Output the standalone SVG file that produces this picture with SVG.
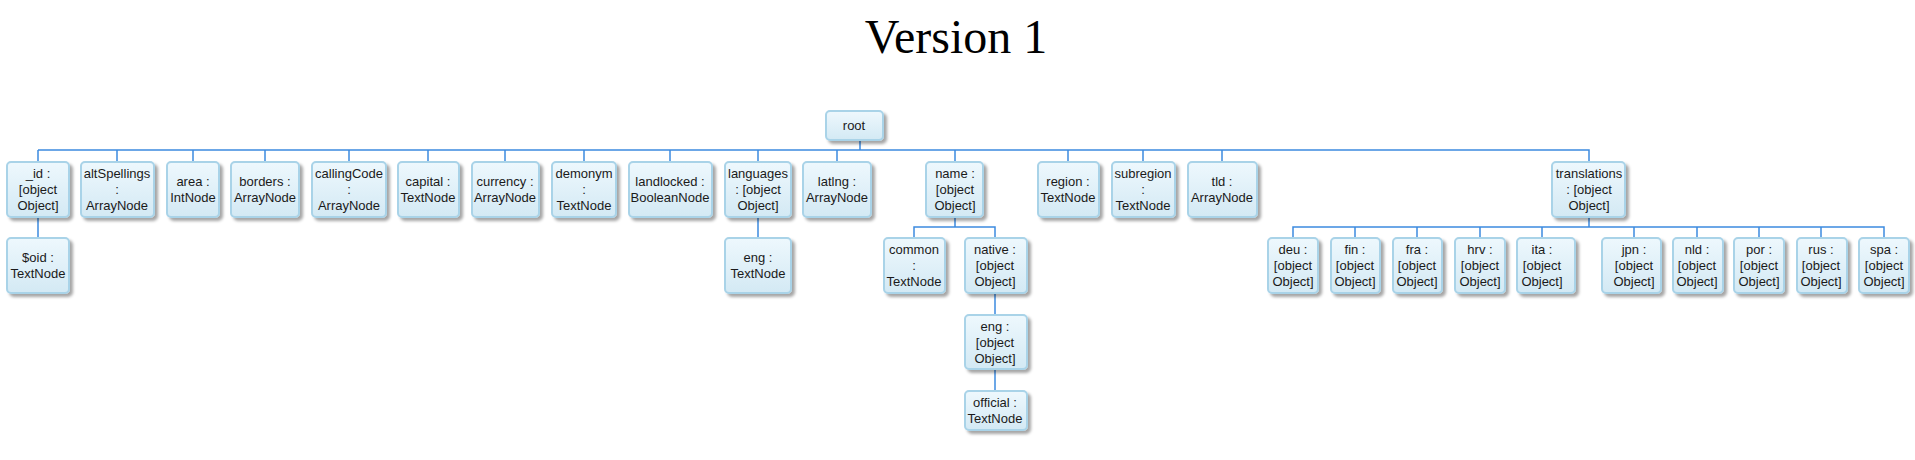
<svg xmlns="http://www.w3.org/2000/svg" width="1915" height="460" viewBox="0 0 1915 460">
<defs>
<linearGradient id="g" x1="0" y1="0" x2="0" y2="1">
<stop offset="0" stop-color="#eef8fd"/>
<stop offset="1" stop-color="#d3e9f4"/>
</linearGradient>
<filter id="sh" x="-20%" y="-20%" width="150%" height="150%">
<feDropShadow dx="3" dy="3" stdDeviation="1.5" flood-color="#000" flood-opacity="0.35"/>
</filter>
</defs>
<style>
.box{fill:url(#g);stroke:#a9d3e8;stroke-width:2;filter:url(#sh)}
.t{font-family:"Liberation Sans",Arial,sans-serif;font-size:13px;fill:#1a1a1a;text-anchor:middle}
.c{fill:none;stroke:#3c8be0;stroke-width:1.5}
.title{font-family:"Liberation Serif","Times New Roman",serif;font-size:48px;fill:#000;text-anchor:middle}
</style>
<rect width="1915" height="460" fill="#fff"/>
<text class="title" x="956" y="53">Version 1</text>
<g id="connectors">
<path class="c" d="M860,140V150M38,150H1589V162M38,150V162M117,150V162M193,150V162M265,150V162M349,150V162M428,150V162M505,150V162M584,150V162M670,150V162M758,150V162M837,150V162M955,150V162M1068,150V162M1143,150V162M1222,150V162"/>
<path class="c" d="M38,217V238M758,217V238"/>
<path class="c" d="M955,217V227M914,238V227H995V238M995,293V315M995,369V391"/>
<path class="c" d="M1589,217V227M1293,238V227H1884V238M1355,227V238M1417,227V238M1480,227V238M1542,227V238M1634,227V238M1697,227V238M1759,227V238M1821,227V238"/>
</g>
<g id="root"><rect class="box" x="826" y="111" width="57" height="29" rx="4"/><text class="t" x="854" y="130">root</text></g>
<g id="n_id"><rect class="box" x="7" y="162" width="62" height="55" rx="4"/><text class="t"><tspan x="38" y="178">_id :</tspan><tspan x="38" y="194">[object</tspan><tspan x="38" y="210">Object]</tspan></text></g>
<g id="altSpellings"><rect class="box" x="81" y="162" width="73" height="55" rx="4"/><text class="t"><tspan x="117" y="178">altSpellings</tspan><tspan x="117" y="194">:</tspan><tspan x="117" y="210">ArrayNode</tspan></text></g>
<g id="area"><rect class="box" x="167" y="162" width="52" height="55" rx="4"/><text class="t"><tspan x="193" y="186">area :</tspan><tspan x="193" y="202">IntNode</tspan></text></g>
<g id="borders"><rect class="box" x="231" y="162" width="68" height="55" rx="4"/><text class="t"><tspan x="265" y="186">borders :</tspan><tspan x="265" y="202">ArrayNode</tspan></text></g>
<g id="callingCode"><rect class="box" x="312" y="162" width="74" height="55" rx="4"/><text class="t"><tspan x="349" y="178">callingCode</tspan><tspan x="349" y="194">:</tspan><tspan x="349" y="210">ArrayNode</tspan></text></g>
<g id="capital"><rect class="box" x="398" y="162" width="61" height="55" rx="4"/><text class="t"><tspan x="428" y="186">capital :</tspan><tspan x="428" y="202">TextNode</tspan></text></g>
<g id="currency"><rect class="box" x="472" y="162" width="67" height="55" rx="4"/><text class="t"><tspan x="505" y="186">currency :</tspan><tspan x="505" y="202">ArrayNode</tspan></text></g>
<g id="demonym"><rect class="box" x="552" y="162" width="64" height="55" rx="4"/><text class="t"><tspan x="584" y="178">demonym</tspan><tspan x="584" y="194">:</tspan><tspan x="584" y="210">TextNode</tspan></text></g>
<g id="landlocked"><rect class="box" x="629" y="162" width="83" height="55" rx="4"/><text class="t"><tspan x="670" y="186">landlocked :</tspan><tspan x="670" y="202">BooleanNode</tspan></text></g>
<g id="languages"><rect class="box" x="725" y="162" width="66" height="55" rx="4"/><text class="t"><tspan x="758" y="178">languages</tspan><tspan x="758" y="194">: [object</tspan><tspan x="758" y="210">Object]</tspan></text></g>
<g id="latlng"><rect class="box" x="803" y="162" width="68" height="55" rx="4"/><text class="t"><tspan x="837" y="186">latlng :</tspan><tspan x="837" y="202">ArrayNode</tspan></text></g>
<g id="name"><rect class="box" x="926" y="162" width="57" height="55" rx="4"/><text class="t"><tspan x="955" y="178">name :</tspan><tspan x="955" y="194">[object</tspan><tspan x="955" y="210">Object]</tspan></text></g>
<g id="region"><rect class="box" x="1038" y="162" width="61" height="55" rx="4"/><text class="t"><tspan x="1068" y="186">region :</tspan><tspan x="1068" y="202">TextNode</tspan></text></g>
<g id="subregion"><rect class="box" x="1112" y="162" width="63" height="55" rx="4"/><text class="t"><tspan x="1143" y="178">subregion</tspan><tspan x="1143" y="194">:</tspan><tspan x="1143" y="210">TextNode</tspan></text></g>
<g id="tld"><rect class="box" x="1188" y="162" width="69" height="55" rx="4"/><text class="t"><tspan x="1222" y="186">tld :</tspan><tspan x="1222" y="202">ArrayNode</tspan></text></g>
<g id="translations"><rect class="box" x="1552" y="162" width="73" height="55" rx="4"/><text class="t"><tspan x="1589" y="178">translations</tspan><tspan x="1589" y="194">: [object</tspan><tspan x="1589" y="210">Object]</tspan></text></g>
<g id="oid"><rect class="box" x="7" y="238" width="62" height="55" rx="4"/><text class="t"><tspan x="38" y="262">$oid :</tspan><tspan x="38" y="278">TextNode</tspan></text></g>
<g id="languages_eng"><rect class="box" x="725" y="238" width="66" height="55" rx="4"/><text class="t"><tspan x="758" y="262">eng :</tspan><tspan x="758" y="278">TextNode</tspan></text></g>
<g id="common"><rect class="box" x="884" y="238" width="61" height="55" rx="4"/><text class="t"><tspan x="914" y="254">common</tspan><tspan x="914" y="270">:</tspan><tspan x="914" y="286">TextNode</tspan></text></g>
<g id="native"><rect class="box" x="965" y="238" width="62" height="55" rx="4"/><text class="t"><tspan x="995" y="254">native :</tspan><tspan x="995" y="270">[object</tspan><tspan x="995" y="286">Object]</tspan></text></g>
<g id="native_eng"><rect class="box" x="965" y="315" width="62" height="54" rx="4"/><text class="t"><tspan x="995" y="331">eng :</tspan><tspan x="995" y="347">[object</tspan><tspan x="995" y="363">Object]</tspan></text></g>
<g id="official"><rect class="box" x="965" y="391" width="62" height="39" rx="4"/><text class="t"><tspan x="995" y="407">official :</tspan><tspan x="995" y="423">TextNode</tspan></text></g>
<g id="deu"><rect class="box" x="1268" y="238" width="50" height="55" rx="4"/><text class="t"><tspan x="1293" y="254">deu :</tspan><tspan x="1293" y="270">[object</tspan><tspan x="1293" y="286">Object]</tspan></text></g>
<g id="fin"><rect class="box" x="1331" y="238" width="49" height="55" rx="4"/><text class="t"><tspan x="1355" y="254">fin :</tspan><tspan x="1355" y="270">[object</tspan><tspan x="1355" y="286">Object]</tspan></text></g>
<g id="fra"><rect class="box" x="1393" y="238" width="49" height="55" rx="4"/><text class="t"><tspan x="1417" y="254">fra :</tspan><tspan x="1417" y="270">[object</tspan><tspan x="1417" y="286">Object]</tspan></text></g>
<g id="hrv"><rect class="box" x="1455" y="238" width="50" height="55" rx="4"/><text class="t"><tspan x="1480" y="254">hrv :</tspan><tspan x="1480" y="270">[object</tspan><tspan x="1480" y="286">Object]</tspan></text></g>
<g id="ita"><rect class="box" x="1517" y="238" width="58" height="55" rx="4"/><text class="t"><tspan x="1542" y="254">ita :</tspan><tspan x="1542" y="270">[object</tspan><tspan x="1542" y="286">Object]</tspan></text></g>
<g id="jpn"><rect class="box" x="1602" y="238" width="59" height="55" rx="4"/><text class="t"><tspan x="1634" y="254">jpn :</tspan><tspan x="1634" y="270">[object</tspan><tspan x="1634" y="286">Object]</tspan></text></g>
<g id="nld"><rect class="box" x="1673" y="238" width="50" height="55" rx="4"/><text class="t"><tspan x="1697" y="254">nld :</tspan><tspan x="1697" y="270">[object</tspan><tspan x="1697" y="286">Object]</tspan></text></g>
<g id="por"><rect class="box" x="1734" y="238" width="50" height="55" rx="4"/><text class="t"><tspan x="1759" y="254">por :</tspan><tspan x="1759" y="270">[object</tspan><tspan x="1759" y="286">Object]</tspan></text></g>
<g id="rus"><rect class="box" x="1797" y="238" width="50" height="55" rx="4"/><text class="t"><tspan x="1821" y="254">rus :</tspan><tspan x="1821" y="270">[object</tspan><tspan x="1821" y="286">Object]</tspan></text></g>
<g id="spa"><rect class="box" x="1859" y="238" width="50" height="55" rx="4"/><text class="t"><tspan x="1884" y="254">spa :</tspan><tspan x="1884" y="270">[object</tspan><tspan x="1884" y="286">Object]</tspan></text></g>
</svg>
